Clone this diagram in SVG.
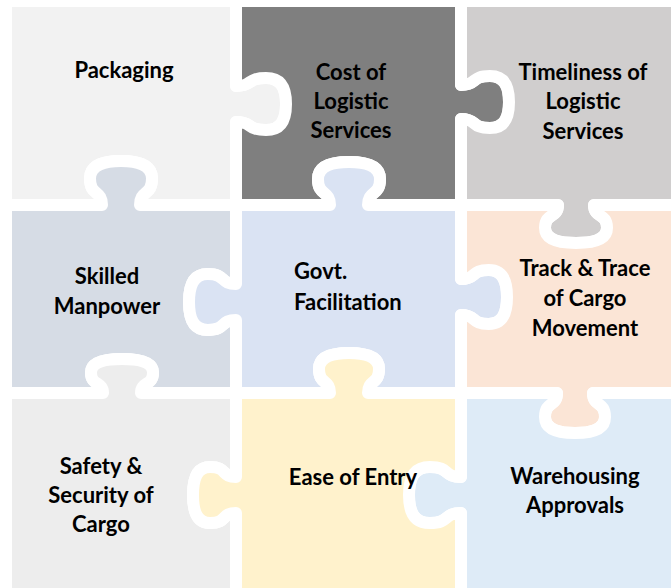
<svg xmlns="http://www.w3.org/2000/svg" width="671" height="588" viewBox="0 0 671 588">
<style>
.pc{stroke:#ffffff;stroke-width:12;stroke-linejoin:round}
.t{font-family:Lato,"Liberation Sans",Arial,sans-serif;font-weight:bold;font-size:22px;fill:#000000;text-anchor:middle}
.tl{text-anchor:start}
</style>
<rect x="0" y="0" width="671" height="588" fill="#ffffff"/>
<g id="packaging">
<path class="pc" fill="#f2f2f2" d="M6,1 H236 L236,86 C253.5,86 246,78 266,78 C282,78 286,89.7 286,104 C286,118.3 282,130 266,130 C246,130 253.5,122 236,122 L236,205 L140,205 C140,189.6 152,196.2 152,178.6 C152,164.5 138,161 121,161 C104,161 90,164.5 90,178.6 C90,196.2 102,189.6 102,205 L6,205 Z"/>
<text class="t" x="124" y="78">Packaging</text>
</g>
<g id="cost">
<path class="pc" fill="#7f7f7f" d="M236,1 H461 L461,85 C477.8,85 470.6,76 489.8,76 C505.2,76 509,87.7 509,102 C509,116.3 505.2,128 489.8,128 C470.6,128 477.8,119 461,119 L461,205 L368,205 C368,190 380,196.4 380,179.2 C380,165.4 366,162 349,162 C332,162 318,165.4 318,179.2 C318,196.4 330,190 330,205 L236,205 L236,122 C253.5,122 246,130 266,130 C282,130 286,118.3 286,104 C286,89.7 282,78 266,78 C246,78 253.5,86 236,86 Z"/>
<text class="t" x="351" y="80">Cost of</text>
<text class="t" x="351" y="109">Logistic</text>
<text class="t" x="351" y="138">Services</text>
</g>
<g id="timeliness">
<path class="pc" fill="#d0cece" d="M461,1 H690 V205 L594,205 C594,218.3 607,212.6 607,227.8 C607,240 593,243 576,243 C559,243 545,240 545,227.8 C545,212.6 558,218.3 558,205 L461,205 L461,119 C477.8,119 470.6,128 489.8,128 C505.2,128 509,116.3 509,102 C509,87.7 505.2,76 489.8,76 C470.6,76 477.8,85 461,85 Z"/>
<text class="t" x="583" y="80">Timeliness of</text>
<text class="t" x="583" y="109">Logistic</text>
<text class="t" x="583" y="139">Services</text>
</g>
<g id="skilled">
<path class="pc" fill="#d6dce5" d="M6,205 L102,205 C102,189.6 90,196.2 90,178.6 C90,164.5 104,161 121,161 C138,161 152,164.5 152,178.6 C152,196.2 140,189.6 140,205 L236,205 L236,284 C219.5,284 226.6,274 207.8,274 C192.8,274 189,286.6 189,302 C189,317.4 192.8,330 207.8,330 C226.6,330 219.5,320 236,320 L236,393 L141,393 C141,381.1 153,386.2 153,372.6 C153,361.7 139,359 122,359 C105,359 91,361.7 91,372.6 C91,386.2 103,381.1 103,393 L6,393 Z"/>
<text class="t" x="107" y="284">Skilled</text>
<text class="t" x="107" y="314">Manpower</text>
</g>
<g id="govt">
<path class="pc" fill="#dae3f3" d="M236,205 L330,205 C330,190 318,196.4 318,179.2 C318,165.4 332,162 349,162 C366,162 380,165.4 380,179.2 C380,196.4 368,190 368,205 L461,205 L461,279 C477.1,279 470.2,270 488.6,270 C503.3,270 507,282.2 507,297 C507,311.8 503.3,324 488.6,324 C470.2,324 477.1,315 461,315 L461,393 L368,393 C368,379 379,385 379,369 C379,356.2 365.5,353 349,353 C332.5,353 319,356.2 319,369 C319,385 330,379 330,393 L236,393 L236,320 C219.5,320 226.6,330 207.8,330 C192.8,330 189,317.4 189,302 C189,286.6 192.8,274 207.8,274 C226.6,274 219.5,284 236,284 Z"/>
<text class="t tl" x="294" y="279">Govt.</text>
<text class="t tl" x="294" y="310">Facilitation</text>
</g>
<g id="track">
<path class="pc" fill="#fbe5d6" d="M461,205 L558,205 C558,218.3 545,212.6 545,227.8 C545,240 559,243 576,243 C593,243 607,240 607,227.8 C607,212.6 594,218.3 594,205 L690,205 V393 L593,393 C593,407 605,401 605,417 C605,429.8 591.5,433 575,433 C558.5,433 545,429.8 545,417 C545,401 557,407 557,393 L461,393 L461,315 C477.1,315 470.2,324 488.6,324 C503.3,324 507,311.8 507,297 C507,282.2 503.3,270 488.6,270 C470.2,270 477.1,279 461,279 Z"/>
<text class="t" x="585" y="276">Track &amp; Trace</text>
<text class="t" x="585" y="306">of Cargo</text>
<text class="t" x="585" y="336">Movement</text>
</g>
<g id="safety">
<path class="pc" fill="#ededed" d="M6,393 L103,393 C103,381.1 91,386.2 91,372.6 C91,361.7 105,359 122,359 C139,359 153,361.7 153,372.6 C153,386.2 141,381.1 141,393 L236,393 L236,477 C221,477 227.4,467 210.2,467 C196.4,467 193,479.6 193,495 C193,510.4 196.4,523 210.2,523 C227.4,523 221,513 236,513 L236,600 L6,600 Z"/>
<text class="t" x="101" y="474">Safety &amp;</text>
<text class="t" x="101" y="503">Security of</text>
<text class="t" x="101" y="532">Cargo</text>
</g>
<g id="warehousing">
<path class="pc" fill="#deebf7" d="M461,393 L557,393 C557,407 545,401 545,417 C545,429.8 558.5,433 575,433 C591.5,433 605,429.8 605,417 C605,401 593,407 593,393 L690,393 V600 H461 L461,513 C442.8,513 450.6,523 429.8,523 C413.2,523 409,510.4 409,495 C409,479.6 413.2,467 429.8,467 C450.6,467 442.8,477 461,477 Z"/>
<text class="t" x="575" y="484">Warehousing</text>
<text class="t" x="575" y="513">Approvals</text>
</g>
<g id="ease">
<path class="pc" fill="#fff2cc" d="M236,393 L330,393 C330,379 319,385 319,369 C319,356.2 332.5,353 349,353 C365.5,353 379,356.2 379,369 C379,385 368,379 368,393 L461,393 L461,477 C442.8,477 450.6,467 429.8,467 C413.2,467 409,479.6 409,495 C409,510.4 413.2,523 429.8,523 C450.6,523 442.8,513 461,513 L461,600 L236,600 L236,513 C221,513 227.4,523 210.2,523 C196.4,523 193,510.4 193,495 C193,479.6 196.4,467 210.2,467 C227.4,467 221,477 236,477 Z"/>
<text class="t" x="353" y="485">Ease of Entry</text>
</g>
</svg>
